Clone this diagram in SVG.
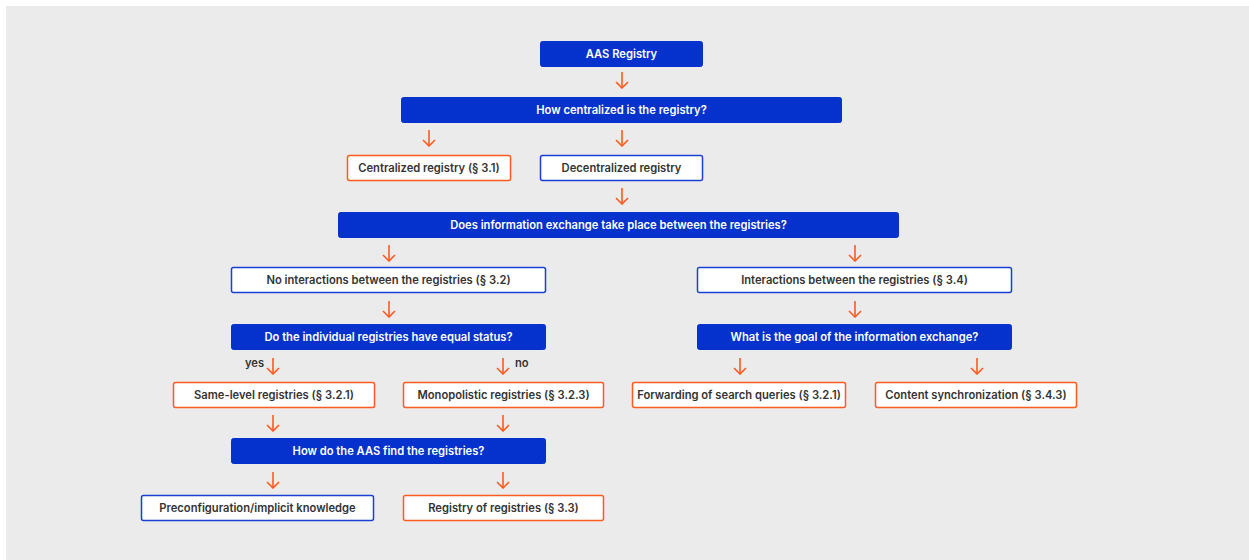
<svg xmlns="http://www.w3.org/2000/svg" width="1249" height="560" viewBox="0 0 1249 560">
<defs>
<style>
.bg{fill:#ebebeb}
.q{fill:#0532cc;stroke:#0532cc;stroke-width:1}
.ob{fill:#ffffff;stroke:#ff5a1f;stroke-width:1.5}
.bb{fill:#ffffff;stroke:#1a3fd1;stroke-width:1.5}
.tq{font-family:Inter,"Liberation Sans",sans-serif;font-size:11.2px;font-weight:600;fill:#ffffff;text-anchor:middle}
.tb{font-family:Inter,"Liberation Sans",sans-serif;font-size:11.2px;font-weight:600;fill:#333333;text-anchor:middle}
.lb{font-family:Inter,"Liberation Sans",sans-serif;font-size:11.2px;font-weight:600;fill:#333333}
.ar{fill:none;stroke:#ff5a1f;stroke-width:1.6;marker-end:url(#ah)}
</style>
<marker id="ah" viewBox="0 0 8 14" refX="7" refY="7" markerWidth="8" markerHeight="14" markerUnits="userSpaceOnUse" orient="auto">
<path d="M1,1 L7,7 L1,13" fill="none" stroke="#ff5a1f" stroke-width="1.6"/>
</marker>
</defs>
<rect class="bg" x="6" y="6" width="1243" height="554"/>
<g id="connectors">
<path class="ar" d="M622,72 V88"/>
<path class="ar" d="M429,130 V146"/>
<path class="ar" d="M622,130 V146"/>
<path class="ar" d="M622,188 V204"/>
<path class="ar" d="M389,245 V261"/>
<path class="ar" d="M855,245 V261"/>
<path class="ar" d="M389,301 V317"/>
<path class="ar" d="M855,301 V317"/>
<path class="ar" d="M273,358 V374"/>
<path class="ar" d="M503,358 V374"/>
<path class="ar" d="M740,358 V374"/>
<path class="ar" d="M977,358 V374"/>
<path class="ar" d="M273,415 V431"/>
<path class="ar" d="M503,415 V431"/>
<path class="ar" d="M273,472 V488"/>
<path class="ar" d="M503,472 V488"/>
<text class="lb" x="245" y="367">yes</text>
<text class="lb" x="515" y="367">no</text>
</g>
<g id="n-aas"><rect class="q" x="540.5" y="41.5" width="162" height="25" rx="2"/><text class="tq" x="621.5" y="58">AAS Registry</text></g>
<g id="n-q1"><rect class="q" x="401.5" y="97.5" width="440" height="25" rx="2"/><text class="tq" x="621.5" y="114">How centralized is the registry?</text></g>
<g id="n-central"><rect class="ob" x="347.5" y="155.5" width="163" height="25" rx="2"/><text class="tb" x="429" y="172">Centralized registry (§ 3.1)</text></g>
<g id="n-decentral"><rect class="bb" x="540.5" y="155.5" width="162" height="25" rx="2"/><text class="tb" x="621.5" y="172">Decentralized registry</text></g>
<g id="n-q2"><rect class="q" x="338.5" y="212.5" width="560" height="25" rx="2"/><text class="tq" x="618.5" y="229">Does information exchange take place between the registries?</text></g>
<g id="n-noint"><rect class="bb" x="231.5" y="267.5" width="314" height="25" rx="2"/><text class="tb" x="388.5" y="284">No interactions between the registries (§ 3.2)</text></g>
<g id="n-int"><rect class="bb" x="697.5" y="267.5" width="314" height="25" rx="2"/><text class="tb" x="854.5" y="284">Interactions between the registries (§ 3.4)</text></g>
<g id="n-q3"><rect class="q" x="231.5" y="324.5" width="314" height="25" rx="2"/><text class="tq" x="388.5" y="341">Do the individual registries have equal status?</text></g>
<g id="n-q4"><rect class="q" x="697.5" y="324.5" width="314" height="25" rx="2"/><text class="tq" x="854.5" y="341">What is the goal of the information exchange?</text></g>
<g id="n-same"><rect class="ob" x="173.5" y="382.5" width="201" height="25" rx="2"/><text class="tb" x="274" y="399">Same-level registries (§ 3.2.1)</text></g>
<g id="n-mono"><rect class="ob" x="403.5" y="382.5" width="200" height="25" rx="2"/><text class="tb" x="503.5" y="399">Monopolistic registries (§ 3.2.3)</text></g>
<g id="n-fwd"><rect class="ob" x="632.5" y="382.5" width="213" height="25" rx="2"/><text class="tb" x="739" y="399">Forwarding of search queries (§ 3.2.1)</text></g>
<g id="n-sync"><rect class="ob" x="875.5" y="382.5" width="201" height="25" rx="2"/><text class="tb" x="976" y="399">Content synchronization (§ 3.4.3)</text></g>
<g id="n-q5"><rect class="q" x="231.5" y="438.5" width="314" height="25" rx="2"/><text class="tq" x="388.5" y="455">How do the AAS find the registries?</text></g>
<g id="n-pre"><rect class="bb" x="141.5" y="495.5" width="232" height="25" rx="2"/><text class="tb" x="257.5" y="512">Preconfiguration/implicit knowledge</text></g>
<g id="n-ror"><rect class="ob" x="403.5" y="495.5" width="200" height="25" rx="2"/><text class="tb" x="503.5" y="512">Registry of registries (§ 3.3)</text></g>
</svg>
